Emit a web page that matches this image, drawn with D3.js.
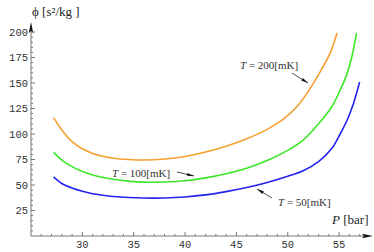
<!DOCTYPE html>
<html>
  <head>
    <script src="https://d3js.org/d3.v7.min.js"></script>
    <style>
      body { margin: 0; background: #fff; }
      .tick-label { font-family: "Liberation Mono", monospace; font-size: 10.5px; fill: #333; }
      .note { font-family: "Liberation Serif", serif; font-size: 11px; fill: #333; }
      .axis-title { font-family: "Liberation Serif", serif; font-size: 13px; fill: #222; }
    </style>
  </head>
  <body>
    <svg width="374" height="252"></svg>
    <script>
      // data: pressure [bar] vs phi [s^2/kg]
      const p200 = [27.2, 28, 29, 30, 31, 32, 33, 34.5, 36, 38, 40, 42, 44, 46, 48, 49.5, 51, 52.2, 53.5, 54.2, 54.8];
      const phi200 = [116, 104, 92.5, 85.5, 81, 78.2, 76.3, 75, 74.5, 75.5, 78, 82.3, 88, 95.3, 104.5, 114, 128, 145, 167, 181, 199];
      const p100 = [27.2, 28, 29, 30, 31, 32, 33, 34.5, 36, 38, 40, 42, 44, 46, 48, 50, 51.5, 53, 54.3, 55.1, 55.7, 56.2, 56.7];
      const phi100 = [82, 74.5, 68, 63.3, 59.8, 57.3, 55.6, 53.8, 52.8, 53, 54.2, 57, 61, 66.5, 74, 84, 94, 110, 127, 143, 157, 174, 199];
      const p50 = [27.2, 28, 29, 30, 31, 32, 33, 34.5, 36, 38, 40, 42, 44, 46, 48, 50, 51.5, 53, 54.3, 55.1, 55.8, 56.4, 57];
      const phi50 = [58, 51.5, 47, 43.8, 41.5, 40, 38.8, 37.7, 37.2, 37.3, 38.3, 40.3, 43.5, 47.5, 52.5, 58.5, 64, 73, 86, 100, 114, 130, 151];

      const xTicks = [30, 35, 40, 45, 50, 55];
      const yTicks = [25, 50, 75, 100, 125, 150, 175, 200];

      const svg = d3.select("svg");
      const x = d3.scaleLinear().domain([25, 50]).range([31, 287.75]);
      const y = d3.scaleLinear().domain([0, 200]).range([236, 32]);

      const axisColor = "#777";

      // axes lines
      svg.append("line")
        .attr("x1", x(25)).attr("x2", 366)
        .attr("y1", y(0)).attr("y2", y(0))
        .attr("stroke", axisColor).attr("stroke-width", 1);
      svg.append("line")
        .attr("x1", x(25)).attr("x2", x(25))
        .attr("y1", y(0)).attr("y2", 30)
        .attr("stroke", axisColor).attr("stroke-width", 1);
      // arrow heads
      svg.append("path")
        .attr("d", `M373,${y(0)} L362,${y(0) - 2.2} L364,${y(0)} L362,${y(0) + 2.2} Z`)
        .attr("fill", "#111");
      svg.append("path")
        .attr("d", `M${x(25)},22 L${x(25) - 2.2},33 L${x(25)},31 L${x(25) + 2.2},33 Z`)
        .attr("fill", "#111");

      // x ticks
      const xMinor = d3.range(26, 58);
      svg.selectAll(".xt").data(xMinor).enter().append("line")
        .attr("x1", d => x(d)).attr("x2", d => x(d))
        .attr("y1", y(0)).attr("y2", d => y(0) - (d % 5 === 0 ? 4 : 2))
        .attr("stroke", axisColor);
      svg.selectAll(".xl").data(xTicks).enter().append("text")
        .attr("class", "tick-label")
        .attr("x", d => x(d)).attr("y", 248)
        .attr("text-anchor", "middle")
        .text(d => d);

      // y ticks
      const yMinor = d3.range(5, 205, 5);
      svg.selectAll(".yt").data(yMinor).enter().append("line")
        .attr("x1", x(25)).attr("x2", d => x(25) + (d % 25 === 0 ? 4 : 2))
        .attr("y1", d => y(d)).attr("y2", d => y(d))
        .attr("stroke", axisColor);
      svg.selectAll(".yl").data(yTicks).enter().append("text")
        .attr("class", "tick-label")
        .attr("x", 28).attr("y", d => y(d) + 3.5)
        .attr("text-anchor", "end")
        .text(d => d);

      // curves
      const line = d3.line()
        .x(d => x(d[0])).y(d => y(d[1]))
        .curve(d3.curveCatmullRom.alpha(0.5));
      const series = [
        { p: p200, phi: phi200, color: "#f5a030" },
        { p: p100, phi: phi100, color: "#3be826" },
        { p: p50, phi: phi50, color: "#2323f0" }
      ];
      series.forEach(s => {
        svg.append("path")
          .datum(d3.zip(s.p, s.phi))
          .attr("d", line)
          .attr("fill", "none")
          .attr("stroke", s.color)
          .attr("stroke-width", 1.6);
      });

      // annotations
      function note(tx, ty, value, ax1, ay1, ax2, ay2) {
        const t = svg.append("text").attr("class", "note").attr("x", tx).attr("y", ty);
        t.append("tspan").attr("font-style", "italic").text("T");
        t.append("tspan").text(" = " + value + "[mK]");
        svg.append("line")
          .attr("x1", ax1).attr("y1", ay1).attr("x2", ax2).attr("y2", ay2)
          .attr("stroke", "#222").attr("stroke-width", 0.8);
        const ang = Math.atan2(ay2 - ay1, ax2 - ax1);
        const L = 7, W = 1.5;
        const bx = ax2 - L * Math.cos(ang), by = ay2 - L * Math.sin(ang);
        svg.append("path")
          .attr("d", `M${ax2},${ay2} L${bx - W * Math.sin(ang)},${by + W * Math.cos(ang)} L${bx + W * Math.sin(ang)},${by - W * Math.cos(ang)} Z`)
          .attr("fill", "#111");
      }
      note(240, 69, 200, 292, 73, 308, 83);
      note(112, 177, 100, 177, 172, 194, 176);
      note(278, 206, 50, 272, 198, 257, 189);

      // axis titles
      svg.append("text").attr("class", "axis-title")
        .attr("x", 32).attr("y", 16)
        .text("ϕ [s²/kg ]");
      const pt = svg.append("text").attr("class", "axis-title")
        .attr("x", 332).attr("y", 224);
      pt.append("tspan").attr("font-style", "italic").text("P");
      pt.append("tspan").text(" [bar]");
    </script>
  </body>
</html>
